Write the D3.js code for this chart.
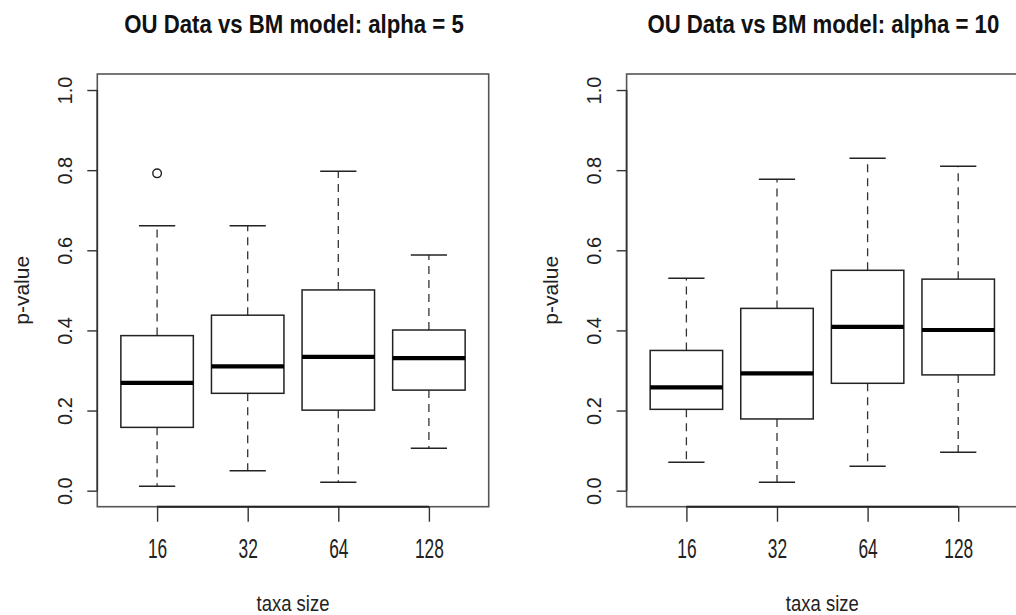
<!DOCTYPE html>
<html>
<head>
<meta charset="utf-8">
<script src="https://d3js.org/d3.v7.min.js"></script>
<style>
  html, body { margin: 0; padding: 0; background: #fff; }
  svg { display: block; font-family: "Liberation Sans", Arial, sans-serif; }
</style>
</head>
<body>
<div id="chart"></div>
<script>
// taxa sizes on the x axis
const categories = ["16", "32", "64", "128"];
const yTicks = [0, 0.2, 0.4, 0.6, 0.8, 1.0];

// alpha = 5 panel
const a5Lower  = [0.011, 0.050, 0.021, 0.106];
const a5Q1     = [0.158, 0.243, 0.201, 0.251];
const a5Median = [0.269, 0.310, 0.334, 0.331];
const a5Q3     = [0.387, 0.438, 0.501, 0.401];
const a5Upper  = [0.661, 0.661, 0.797, 0.588];
const a5OutlierCats = ["16"];
const a5OutlierVals = [0.792];

// alpha = 10 panel
const a10Lower  = [0.071, 0.021, 0.061, 0.096];
const a10Q1     = [0.203, 0.179, 0.268, 0.289];
const a10Median = [0.258, 0.293, 0.409, 0.401];
const a10Q3     = [0.350, 0.455, 0.550, 0.528];
const a10Upper  = [0.530, 0.777, 0.830, 0.810];
const a10OutlierCats = [];
const a10OutlierVals = [];

const titles = ["OU Data vs BM model: alpha = 5", "OU Data vs BM model: alpha = 10"];

function boxes(lower, q1, med, q3, upper) {
  return categories.map((c, i) => ({cat: c, lo: lower[i], q1: q1[i], med: med[i], q3: q3[i], hi: upper[i]}));
}
function outliers(cats, vals) {
  return cats.map((c, i) => ({cat: c, v: vals[i]}));
}

const panels = [
  {title: titles[0], boxes: boxes(a5Lower, a5Q1, a5Median, a5Q3, a5Upper), out: outliers(a5OutlierCats, a5OutlierVals), left: 97.3},
  {title: titles[1], boxes: boxes(a10Lower, a10Q1, a10Median, a10Q3, a10Upper), out: outliers(a10OutlierCats, a10OutlierVals), left: 626.6}
];

const W = 1016, H = 615;
const plotW = 391.4, plotH = 432.7, plotTop = 74;

const svg = d3.select("#chart").append("svg")
  .attr("width", W).attr("height", H);

panels.forEach(p => {
  const g = svg.append("g").attr("transform", `translate(${p.left},${plotTop})`);

  const x = d3.scalePoint().domain(categories).range([0, plotW]).padding(0.66);
  const y = d3.scaleLinear().domain([-0.04, 1.04]).range([plotH, 0]);
  const bw = x.step() * 0.8;

  // title
  svg.append("text")
    .attr("transform", `translate(${p.left + plotW / 2 + 1},33) scale(0.87,1)`)
    .attr("text-anchor", "middle")
    .attr("font-weight", "bold")
    .attr("font-size", 25.5)
    .attr("fill", "#111")
    .text(p.title);

  // frame
  g.append("rect")
    .attr("x", 0).attr("y", 0).attr("width", plotW).attr("height", plotH)
    .attr("fill", "none").attr("stroke", "#555").attr("stroke-width", 1.6);

  // y axis
  const ya = g.append("g").call(d3.axisLeft(y).tickValues(yTicks).tickSize(10).tickFormat(d3.format(".1f")));
  ya.select(".domain").remove();
  ya.append("line")
    .attr("x1", 0).attr("x2", 0).attr("y1", y(0)).attr("y2", y(1))
    .attr("stroke", "#333").attr("stroke-width", 1.6);
  ya.selectAll(".tick line").attr("stroke", "#333").attr("stroke-width", 1.4);
  ya.selectAll(".tick text")
    .attr("x", null).attr("dy", null)
    .attr("text-anchor", "middle")
    .attr("transform", "translate(-25.3,0) rotate(-90)")
    .attr("font-size", 20)
    .attr("font-family", "Liberation Sans, Arial, sans-serif")
    .attr("fill", "#222");

  // x axis
  const xa = g.append("g").attr("transform", `translate(0,${plotH})`)
    .call(d3.axisBottom(x).tickSize(15));
  xa.select(".domain").remove();
  xa.append("line")
    .attr("x1", x(categories[0])).attr("x2", x(categories[categories.length - 1]))
    .attr("y1", 0).attr("y2", 0)
    .attr("stroke", "#222").attr("stroke-width", 2);
  xa.selectAll(".tick line").attr("stroke", "#333").attr("stroke-width", 1.4);
  xa.selectAll(".tick text")
    .attr("y", 0).attr("dy", null)
    .attr("transform", "translate(0,51.3) scale(0.62,1)")
    .attr("font-size", 28)
    .attr("font-family", "Liberation Sans, Arial, sans-serif")
    .attr("fill", "#222");

  // axis titles
  g.append("text")
    .attr("transform", `translate(${plotW / 2},${611 - plotTop}) scale(0.84,1)`)
    .attr("text-anchor", "middle")
    .attr("font-size", 22)
    .attr("fill", "#222")
    .text("taxa size");
  g.append("text")
    .attr("transform", `translate(-68.3,${y(0.5)}) rotate(-90)`)
    .attr("text-anchor", "middle")
    .attr("font-size", 21)
    .attr("fill", "#222")
    .text("p-value");

  // whiskers
  const b = g.selectAll(".box").data(p.boxes).join("g").attr("class", "box");
  b.append("line")
    .attr("x1", d => x(d.cat)).attr("x2", d => x(d.cat))
    .attr("y1", d => y(d.q3)).attr("y2", d => y(d.hi))
    .attr("stroke", "#333").attr("stroke-width", 1.3).attr("stroke-dasharray", "8,6");
  b.append("line")
    .attr("x1", d => x(d.cat)).attr("x2", d => x(d.cat))
    .attr("y1", d => y(d.q1)).attr("y2", d => y(d.lo))
    .attr("stroke", "#333").attr("stroke-width", 1.3).attr("stroke-dasharray", "8,6");
  b.append("line")
    .attr("x1", d => x(d.cat) - bw / 4).attr("x2", d => x(d.cat) + bw / 4)
    .attr("y1", d => y(d.hi)).attr("y2", d => y(d.hi))
    .attr("stroke", "#222").attr("stroke-width", 1.5);
  b.append("line")
    .attr("x1", d => x(d.cat) - bw / 4).attr("x2", d => x(d.cat) + bw / 4)
    .attr("y1", d => y(d.lo)).attr("y2", d => y(d.lo))
    .attr("stroke", "#222").attr("stroke-width", 1.5);
  // boxes
  b.append("rect")
    .attr("x", d => x(d.cat) - bw / 2).attr("width", bw)
    .attr("y", d => y(d.q3)).attr("height", d => y(d.q1) - y(d.q3))
    .attr("fill", "#fff").attr("stroke", "#222").attr("stroke-width", 1.5);
  // medians
  b.append("line")
    .attr("x1", d => x(d.cat) - bw / 2).attr("x2", d => x(d.cat) + bw / 2)
    .attr("y1", d => y(d.med)).attr("y2", d => y(d.med))
    .attr("stroke", "#000").attr("stroke-width", 4.2);

  // outliers
  g.selectAll(".out").data(p.out).join("circle").attr("class", "out")
    .attr("cx", d => x(d.cat)).attr("cy", d => y(d.v)).attr("r", 4.3)
    .attr("fill", "none").attr("stroke", "#222").attr("stroke-width", 1.4);
});
</script>
</body>
</html>
